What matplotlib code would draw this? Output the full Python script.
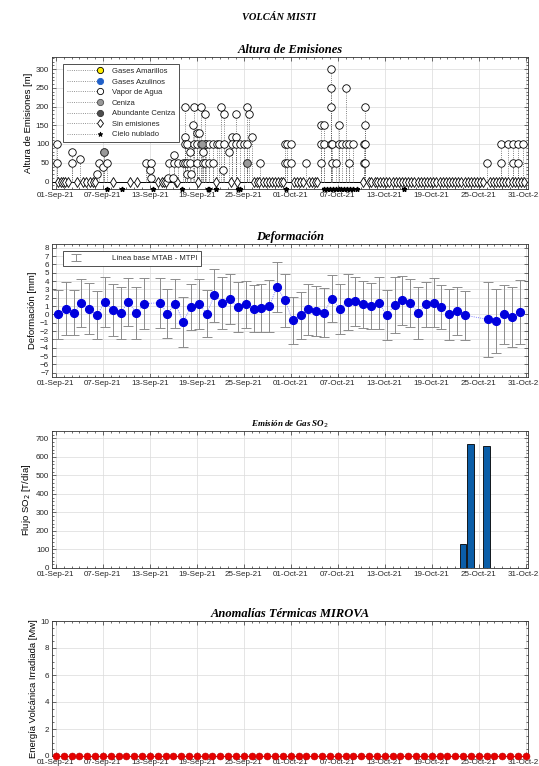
import numpy as np
import pandas as pd
import matplotlib
matplotlib.use("Agg")
import matplotlib.pyplot as plt
import matplotlib.dates as mdates
from matplotlib.lines import Line2D
from matplotlib.ticker import MultipleLocator, AutoMinorLocator
from matplotlib.legend_handler import HandlerLine2D

plt.rcParams['font.family'] = ['Liberation Sans', 'DejaVu Sans']

BASE = pd.Timestamp("2021-09-01")

# --- Altura de emisiones: dia = dias desde 01-Sep-21, altura en m ---
vapor_dia = [
    0.1, 0.1, 2.1, 2.1, 3.1, 5.3, 5.5, 6.0, 6.1, 6.5,
    11.5, 12.0, 12.2, 12.2, 14.3, 14.4, 14.9, 15.1, 15.1, 15.6,
    16.2, 16.5, 16.5, 16.5, 16.5, 16.8, 16.8, 16.8, 17.1, 17.1, 17.3, 17.5, 17.6, 17.6,
    18.0, 18.0, 18.0, 18.3, 18.5, 18.5, 18.8, 18.8, 19.0, 19.0, 19.0, 19.2, 19.6, 19.6,
    20.1, 20.1, 20.6, 20.8, 21.1, 21.3, 21.5, 21.5, 22.1, 22.5, 22.5,
    23.0, 23.0, 23.0, 23.5, 24.0, 24.4, 24.4, 24.4, 24.6, 25.0, 26.1,
    29.2, 29.2, 29.5, 29.5, 30.0, 30.0, 32.0,
    33.9, 33.9, 33.9, 34.2, 34.2, 35.1, 35.1, 35.1, 35.1, 35.3, 35.3, 35.8,
    36.1, 36.1, 36.5, 37.0, 37.0, 37.4, 37.4, 37.9, 39.3, 39.3, 39.5, 39.5, 39.5, 39.5,
    55.0, 56.9, 56.9, 57.8, 58.4, 58.4, 59.0, 59.0, 59.7,
]
vapor_alt = [
    100, 50, 80, 50, 60, 20, 50, 40, 80, 50,
    50, 30, 50, 10, 10, 50, 10, 50, 70, 50,
    50, 200, 120, 100, 50, 100, 50, 20, 80, 50, 20, 150, 200, 100,
    130, 100, 50, 130, 200, 100, 80, 50, 180, 100, 50, 100, 100, 50,
    100, 50, 100, 100, 200, 30, 180, 100, 80, 120, 100,
    180, 120, 100, 100, 100, 200, 100, 50, 180, 120, 50,
    100, 50, 100, 50, 100, 50, 50,
    150, 100, 50, 150, 100, 300, 250, 200, 100, 100, 50, 50,
    150, 100, 100, 250, 100, 100, 50, 100, 100, 50, 200, 150, 100, 50,
    50, 100, 50, 100, 100, 50, 100, 50, 100,
]
ceniza_dia = [6.2, 18.6, 24.4]
ceniza_alt = [80, 100, 50]
sin_emision_dia = [
    0.3, 0.6, 0.9, 1.2, 1.5, 2.7, 3.5, 3.9, 4.3, 4.7, 5.0,
    7.3, 9.5, 10.4, 13.1, 13.5, 13.8, 14.1, 15.3, 15.5,
    18.1, 20.5, 22.3, 23.1, 25.3, 25.7, 26.0, 26.4,
    26.8, 27.2, 27.6, 28.0, 28.4, 28.8, 29.0, 30.4, 30.8, 31.2, 31.6, 32.3, 32.7, 33.1, 33.4,
    39.2, 40.0, 40.3, 40.7, 41.0, 41.4, 41.8, 42.2, 42.6, 43.0, 43.4, 43.8, 44.2, 44.6,
    45.0, 45.4, 45.8, 46.2, 46.6, 47.0, 47.4, 47.8, 48.2, 48.6, 49.0, 49.4, 49.8,
    50.2, 50.6, 51.0, 51.4, 51.8, 52.2, 52.6, 53.0, 53.4, 53.8, 54.2, 54.6,
    55.4, 55.8, 56.2, 56.6, 57.0, 57.4, 57.8, 58.2, 58.6, 59.0, 59.4, 59.8,
]
nublado_dia = [6.5, 8.5, 12.4, 16.1, 19.4, 19.6, 20.5, 23.3, 23.5, 29.4,
               34.3, 34.6, 35.0, 35.4, 35.8, 36.1, 36.4, 36.8, 37.2, 37.6,
               38.0, 38.4, 44.4]

# --- Deformacion (linea base MTAB - MTPI) ---
def_dia = [0, 1, 2, 3, 4, 5, 6, 7, 8, 9, 10, 11, 13, 14, 15, 16, 17, 18, 19,
           20, 21, 22, 23, 24, 25, 26, 27, 28, 29, 30, 31, 32, 33, 34, 35, 36,
           37, 38, 39, 40, 41, 42, 43, 44, 45, 46, 47, 48, 49, 50, 51, 52,
           55, 56, 57, 58, 59]
def_mm = [0.0, 0.7, 0.2, 1.4, 0.7, -0.1, 1.5, 0.5, 0.2, 1.5, 0.2, 1.3, 1.4,
          0.1, 1.3, -0.9, 0.9, 1.3, 0.1, 2.3, 1.4, 1.8, 0.9, 1.2, 0.7, 0.8,
          1.0, 3.3, 1.7, -0.7, -0.1, 0.6, 0.4, 0.2, 1.9, 0.7, 1.5, 1.6, 1.2,
          1.0, 1.4, -0.1, 1.1, 1.7, 1.4, 0.2, 1.2, 1.4, 0.9, 0.0, 0.4, -0.1,
          -0.6, -0.8, 0.0, -0.3, 0.3]
def_err = [2.9, 3.2, 2.7, 2.9, 3.1, 2.9, 3.0, 3.1, 3.1, 2.9, 3.1, 3.1, 3.0,
           2.9, 2.9, 3.05, 2.8, 3.0, 2.85, 3.2, 3.1, 3.0, 3.0, 2.8, 2.8, 2.9,
           3.1, 3.0, 3.2, 2.85, 2.8, 3.1, 3.0, 2.95, 2.8, 3.0, 3.4, 2.95, 2.8,
           2.8, 3.15, 3.0, 3.35, 2.95, 2.85, 3.1, 2.75, 2.95, 2.65, 3.1, 2.85,
           2.95, 4.5, 3.8, 3.5, 3.6, 3.85]

# --- SO2 ---
so2_fecha = ["2021-10-23", "2021-10-24", "2021-10-26"]
so2_flujo = [130, 670, 660]

# --- MIROVA ---
mirova_fecha = pd.date_range("2021-09-01", "2021-10-31", freq="D")
mirova_mw = [0, 0, 0, 0, 0, 0, 0, 0, 0, 0, 0, 0, 0, 0, 0, 0, 0, 0, 0, 0,
             0, 0, 0, 0, 0, 0, 0, 0, 0, 0, 0, 0, 0, 0, 0, 0, 0, 0, 0, 0,
             0, 0, 0, 0, 0, 0, 0, 0, 0, 0, 0, 0, 0, 0, 0, 0, 0, 0, 0, 0, 0]


def to_dates(dias, shift=0.0):
    return BASE + pd.to_timedelta(np.asarray(dias, dtype=float) + shift, unit="D")


class StemHandler(HandlerLine2D):
    # marcador al final de la linea, como en stem de MATLAB
    def create_artists(self, *args, **kwargs):
        arts = super().create_artists(*args, **kwargs)
        arts[0].set_markevery([2])
        return arts


W, H = 539, 766
fig = plt.figure(figsize=(W / 100, H / 100), dpi=100)


def box(l, t, r, b):
    return [l / W, 1 - b / H, (r - l) / W, (b - t) / H]


TITLE = dict(family='Liberation Serif', weight='bold', style='italic')
x0 = BASE - pd.Timedelta(hours=12)
x1 = BASE + pd.Timedelta(days=60.3)


def estilo(ax):
    ax.set_xlim(x0, x1)
    ax.xaxis.set_major_locator(mdates.DayLocator(bymonthday=[1, 7, 13, 19, 25, 31]))
    ax.xaxis.set_minor_locator(mdates.DayLocator())
    ax.xaxis.set_major_formatter(mdates.DateFormatter('%d-%b-%y'))
    ax.tick_params(which='both', direction='in', top=True, right=True,
                   width=0.5, color='0.2', labelsize=5.8, labelcolor='0.15', pad=2)
    ax.tick_params(which='major', length=3)
    ax.tick_params(which='minor', length=1.6)
    ax.grid(True, which='major', color='0.86', lw=0.5)
    ax.set_axisbelow(True)
    for s in ax.spines.values():
        s.set_linewidth(0.6)
        s.set_color('0.2')


fig.text(279 / W, 1 - 17 / H, 'VOLCÁN MISTI', ha='center', va='center',
         fontsize=7.5, **TITLE)

# ---------- Altura de Emisiones ----------
ax1 = fig.add_axes(box(52, 57, 528, 189))
estilo(ax1)
ax1.set_ylim(-20, 332)
ax1.yaxis.set_major_locator(MultipleLocator(50))
ax1.yaxis.set_minor_locator(AutoMinorLocator(5))
ax1.axhline(0, color='k', lw=0.7, zorder=2)
stem_kw = dict(linestyles=':', colors='0.35', lw=0.6, zorder=2)
ax1.vlines(to_dates(vapor_dia), 0, vapor_alt, **stem_kw)
ax1.vlines(to_dates(ceniza_dia), 0, ceniza_alt, **stem_kw)
ax1.plot(to_dates(sin_emision_dia), np.zeros(len(sin_emision_dia)), 'd', ms=5,
         mfc='white', mec='k', mew=0.6, zorder=3)
ax1.plot(to_dates(vapor_dia), vapor_alt, 'o', ms=5.4, mfc='white', mec='k',
         mew=0.6, zorder=4)
ax1.plot(to_dates(ceniza_dia), ceniza_alt, 'o', ms=5.4, mfc='0.6', mec='0.2',
         mew=0.6, zorder=4)
ax1.plot(to_dates(nublado_dia), np.full(len(nublado_dia), -20), '*', ms=3.5,
         color='k', clip_on=False, zorder=5)
ax1.set_ylabel('Altura de Emisiones [m]', fontsize=6.8, labelpad=2)
ax1.set_title('Altura de Emisiones', fontsize=9, pad=3, **TITLE)

lk = dict(ls=':', color='0.45', lw=0.6, ms=4.5, mew=0.6)
handles = [
    Line2D([], [], marker='o', mfc='#ffee00', mec='k', **lk),
    Line2D([], [], marker='o', mfc='#1f5fc8', mec='#1f5fc8', **lk),
    Line2D([], [], marker='o', mfc='white', mec='k', **lk),
    Line2D([], [], marker='o', mfc='0.6', mec='0.3', **lk),
    Line2D([], [], marker='o', mfc='0.3', mec='0.2', **lk),
    Line2D([], [], marker='d', mfc='white', mec='k', **lk),
    Line2D([], [], marker='*', mfc='k', mec='k', **{**lk, 'ms': 3.5}),
]
labels = ['Gases Amarillos', 'Gases Azulinos', 'Vapor de Agua', 'Ceniza',
          'Abundante Ceniza', 'Sin emisiones', 'Cielo nublado']
leg = ax1.legend(handles, labels, loc='upper left', bbox_to_anchor=(0.023, 0.948),
                 borderaxespad=0, fontsize=5.5, handlelength=4.3, handletextpad=1.6,
                 labelspacing=0.42, borderpad=0.5, fancybox=False, framealpha=1,
                 edgecolor='0.2', numpoints=1,
                 handler_map={Line2D: StemHandler()})
leg.get_frame().set_linewidth(0.6)
for t in leg.get_texts():
    t.set_color('0.15')

# ---------- Deformacion ----------
ax2 = fig.add_axes(box(52, 244, 528, 377))
estilo(ax2)
ax2.set_ylim(-7.5, 8.45)
ax2.yaxis.set_major_locator(MultipleLocator(1))
xd = to_dates(def_dia, 0.25)
eb = ax2.errorbar(xd, def_mm, yerr=def_err, fmt='none', ecolor='0.55',
                  elinewidth=0.7, capsize=3.4, capthick=0.7, zorder=2,
                  label='Línea base MTAB - MTPI')
ax2.plot(xd, def_mm, ls=':', color='#5a5aff', lw=0.6, zorder=3)
ax2.plot(xd, def_mm, 'o', ms=5.6, mfc='#0000dd', mec='#0000dd', zorder=4)
ax2.set_ylabel('Deformación [mm]', fontsize=6.8, labelpad=2)
ax2.set_title('Deformación', fontsize=9, pad=3, **TITLE)
leg2 = ax2.legend(handles=[eb], loc='upper left', bbox_to_anchor=(0.023, 0.945),
                  borderaxespad=0, fontsize=5.5, handlelength=2.5, handletextpad=3.5,
                  borderpad=0.45, fancybox=False, framealpha=1, edgecolor='0.2')
leg2.get_frame().set_linewidth(0.6)
leg2.get_texts()[0].set_color('0.15')

# ---------- SO2 ----------
ax3 = fig.add_axes(box(52, 431, 528, 568))
estilo(ax3)
ax3.set_ylim(0, 740)
ax3.yaxis.set_major_locator(MultipleLocator(100))
ax3.yaxis.set_minor_locator(AutoMinorLocator(5))
ax3.bar(pd.to_datetime(so2_fecha), so2_flujo, width=0.88, color='#0b5ea8',
        edgecolor='k', lw=0.6, zorder=3)
ax3.set_ylabel('Flujo SO$_2$ [T/día]', fontsize=6.8, labelpad=2)
ax3.set_title('Emisión de Gas SO$_2$', fontsize=6.5, pad=3, **TITLE)

# ---------- MIROVA ----------
ax4 = fig.add_axes(box(52, 621, 528, 756))
estilo(ax4)
ax4.set_ylim(0, 10)
ax4.yaxis.set_major_locator(MultipleLocator(2))
ax4.yaxis.set_minor_locator(AutoMinorLocator(4))
ax4.plot(mirova_fecha, mirova_mw, '-o', color='#e60000', lw=0.8, ms=5,
         mec='#c00000', mew=0.4, clip_on=False, zorder=5)
ax4.set_ylabel('Energía Volcánica Irradiada [Mw]', fontsize=6.8, labelpad=2)
ax4.set_title('Anomalías Térmicas MIROVA', fontsize=9, pad=3, **TITLE)

fig.savefig('out.png', dpi=100)
